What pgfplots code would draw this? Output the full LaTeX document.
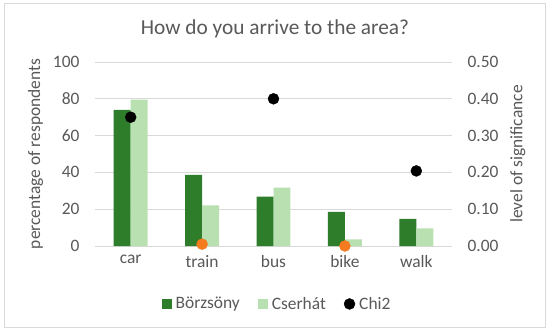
\documentclass[border=0pt]{standalone}
\usepackage{pgfplots}
\pgfplotsset{compat=1.18}
\usepackage{fontspec}
\setmainfont{Carlito}
\definecolor{dkg}{HTML}{2E7D2A}
\definecolor{ltg}{HTML}{B8E0B0}
\definecolor{org}{HTML}{F47B20}
\definecolor{txt}{HTML}{595959}
\definecolor{grd}{HTML}{D9D9D9}
\begin{document}
\begin{tikzpicture}
\path[fill=white] (0bp,0bp) rectangle (550bp,335bp);
\draw[grd, line width=1bp] (4bp,7bp) rectangle (545bp,331bp);
\node[text=txt, font=\fontsize{21.4}{24}\selectfont] at (275bp,306bp) {How do you arrive to the area?};
\begin{axis}[
  at={(95bp,89bp)}, anchor=south west,
  width=357bp, height=184bp, scale only axis,
  xmin=-0.5, xmax=4.5, ymin=0, ymax=100,
  xtick={0,1,2,3,4}, xticklabels={car,train,bus,bike,walk},
  ytick={0,20,40,60,80,100},
  ymajorgrids, grid style={grd, line width=0.8bp},
  axis line style={draw=none}, major tick length=0pt,
  ybar=0pt, bar width=0.238,
  tick label style={font=\fontsize{17.5}{20}\selectfont, text=txt},
  /pgf/number format/assume math mode=true,
  yticklabel style={xshift=-12bp},
  xticklabel style={yshift=-6bp},
  ylabel={percentage of respondents},
  ylabel style={font=\fontsize{17.5}{20}\selectfont, text=txt, yshift=3bp},
  legend columns=3,
  legend style={at={(axis description cs:0.51,-0.315)}, anchor=center, draw=none,
    font=\fontsize{17.5}{20}\selectfont, text=txt, fill=none,
    /tikz/every even column/.append style={column sep=16bp},
    /tikz/every odd column/.append style={column sep=2bp}},
  clip=false,
]
\addplot[fill=dkg, draw=none, legend image code/.code={\fill[dkg] (0bp,-5bp) rectangle (10bp,5bp);}]
  coordinates {(0,74) (1,38.6) (2,26.8) (3,18.6) (4,14.7)};
\addlegendentry{Börzsöny}
\addplot[fill=ltg, draw=none, legend image code/.code={\fill[ltg] (0bp,-5bp) rectangle (10bp,5bp);}]
  coordinates {(0,79.5) (1,22.1) (2,31.7) (3,3.6) (4,9.6)};
\addlegendentry{Cserhát}
\addlegendimage{legend image code/.code={\fill[black] (5bp,0bp) circle (5.5bp);}}
\addlegendentry{Chi2}
\end{axis}
\begin{axis}[
  at={(95bp,89bp)}, anchor=south west,
  width=357bp, height=184bp, scale only axis,
  xmin=-0.5, xmax=4.5, ymin=0, ymax=0.5,
  axis y line*=right, axis x line=none,
  axis line style={draw=none}, major tick length=0pt,
  ytick={0,0.1,0.2,0.3,0.4,0.5},
  /pgf/number format/fixed, /pgf/number format/fixed zerofill, /pgf/number format/precision=2,
  tick label style={font=\fontsize{17.5}{20}\selectfont, text=txt},
  /pgf/number format/assume math mode=true,
  yticklabel style={xshift=12bp},
  ylabel={level of significance},
  ylabel style={font=\fontsize{17.5}{20}\selectfont, text=txt, yshift=-5bp},
  clip=false,
]
\addplot[only marks, mark=*, mark size=5.5bp, black] coordinates {(0,0.35) (2,0.40) (4,0.204)};
\addplot[only marks, mark=*, mark size=5.5bp, org, mark options={draw=org, fill=org}] coordinates {(1,0.005) (3,0.0)};
\end{axis}
\end{tikzpicture}
\end{document}
